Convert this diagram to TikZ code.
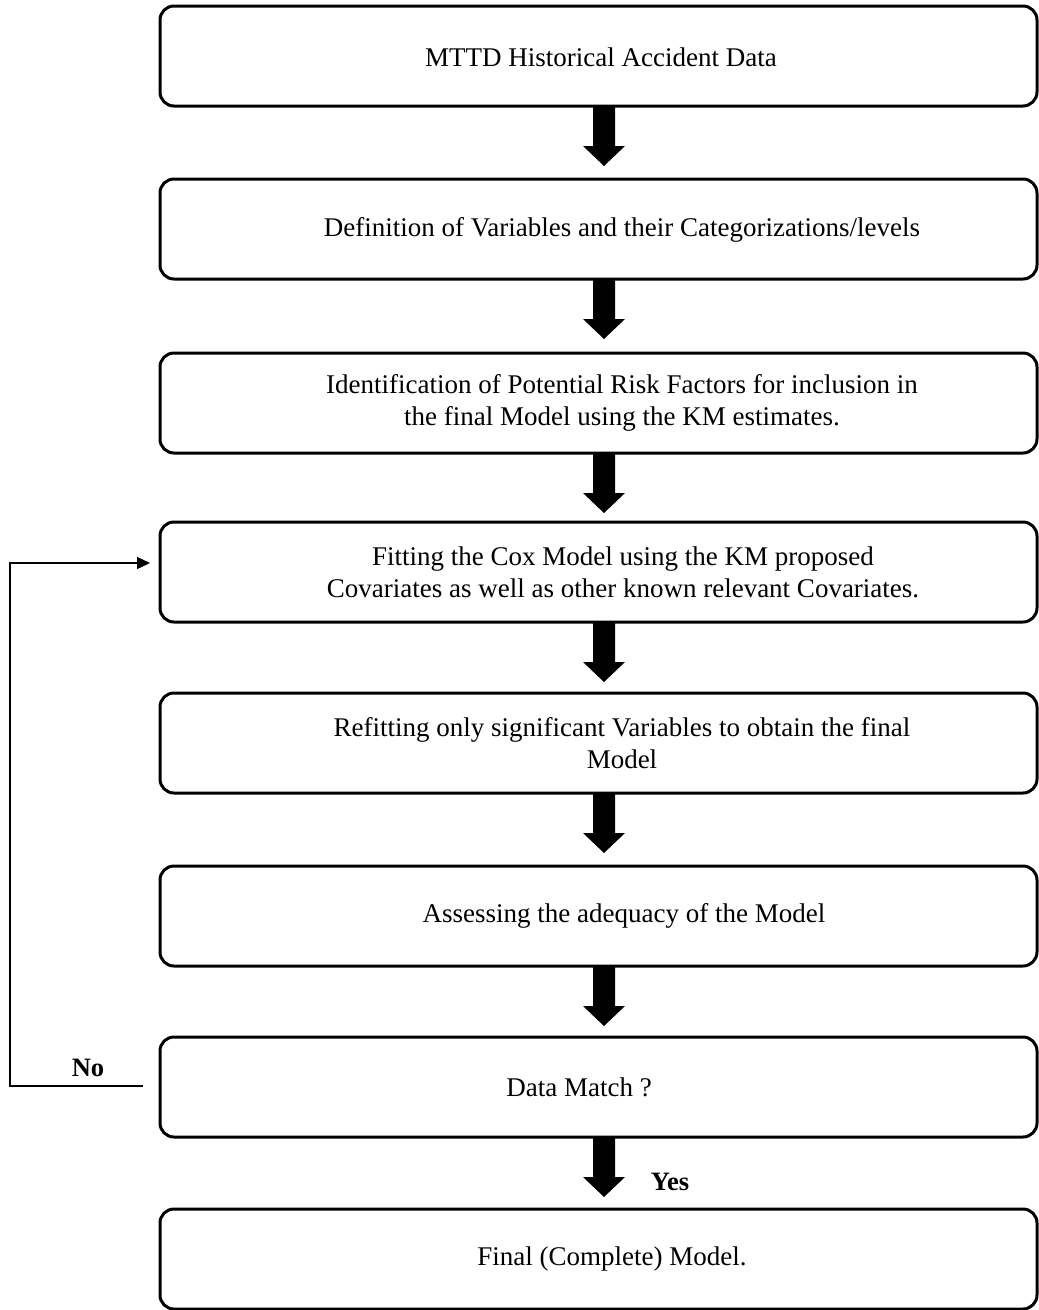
\documentclass[tikz,border=0pt]{standalone}
\usepackage{fontspec}
\setmainfont{Liberation Serif}
\usetikzlibrary{arrows.meta,calc}
\newcommand{\blockarr}[1]{\fill[black] ($(#1.south)+(-5.5,0)$) -- ++(22,0) -- ++(0,40) -- ++(10,0) -- ++(-21,20) -- ++(-21,-20) -- ++(10,0) -- cycle;}
\begin{document}
\begin{tikzpicture}[x=1pt,y=-1pt,
  box/.style={draw=black, line width=3pt, rounded corners=14pt, minimum width=877pt, minimum height=100pt, inner sep=0pt, outer sep=0pt},
  txt/.style={font=\fontsize{27}{32}\selectfont, align=center, inner sep=0pt},
  lbl/.style={font=\fontsize{26.5}{32}\selectfont\bfseries, inner sep=0pt},
  fb/.style={line width=1.3pt, -{Triangle[length=13pt,width=12pt]}}
]
\useasboundingbox (0,0) rectangle (1039,1310);
\node[box] (b1) at (598.5,56) {};
\node[box] (b2) at (598.5,229) {};
\node[box] (b3) at (598.5,403) {};
\node[box] (b4) at (598.5,572) {};
\node[box] (b5) at (598.5,743) {};
\node[box] (b6) at (598.5,916) {};
\node[box] (b7) at (598.5,1087) {};
\node[box] (b8) at (598.5,1259) {};
\node[txt] (t1) at (601,57) {MTTD Historical Accident Data};
\node[txt] (t2) at (622,230) {Definition of Variables and their Categorizations/levels};
\node[txt] (t3) at (622,403) {Identification of Potential Risk Factors for inclusion in\\the final Model using the KM estimates.};
\node[txt] (t4) at (623,572) {Fitting the Cox Model using the KM proposed\\Covariates as well as other known relevant Covariates.};
\node[txt] (t5) at (622,743) {Refitting only significant Variables to obtain the final\\Model};
\node[txt] (t6) at (624,916) {Assessing the adequacy of the Model};
\node[txt] (t7) at (579,1087) {Data Match ?};
\node[txt] (t8) at (612,1259) {Final (Complete) Model.};
\blockarr{b1}
\blockarr{b2}
\blockarr{b3}
\blockarr{b4}
\blockarr{b5}
\blockarr{b6}
\blockarr{b7}
\node[lbl] (yes) at (670,1182) {Yes};
\coordinate (fbs) at ($(b7.west)+(-17,-1)$);
\draw[fb] (fbs) -- ++(-133,0) |- ($(b4.west)+(-10,-9)$);
\node[lbl] (no) at (88,1068) {No};
\end{tikzpicture}
\end{document}
